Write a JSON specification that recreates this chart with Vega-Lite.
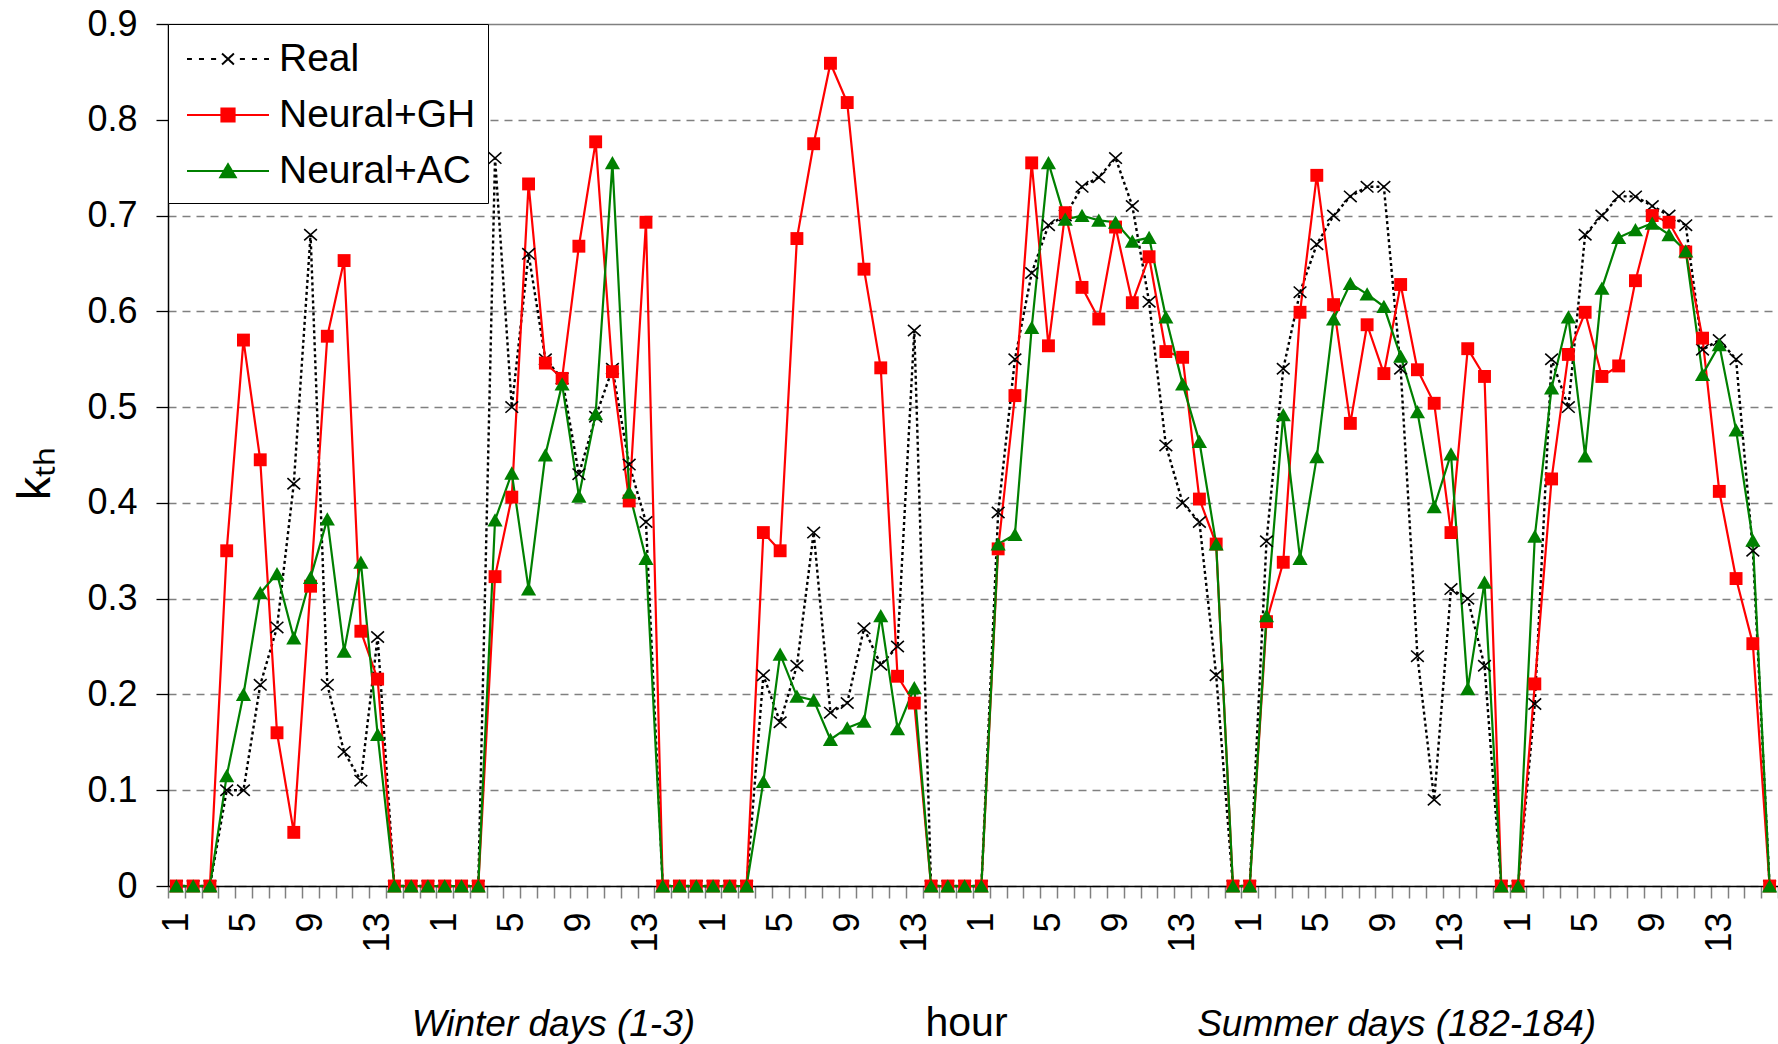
{
  "$schema": "https://vega.github.io/schema/vega-lite/v6.json",
  "width": 1610,
  "height": 862,
  "autosize": {"type": "none"},
  "padding": {"left": 168, "top": 24, "right": 0, "bottom": 158},
  "background": "white",
  "config": {"font": "Liberation Sans", "view": {"stroke": null}},
  "data": {"values": [
    {"t":1,"real":0,"gh":0,"ac":0},{"t":2,"real":0,"gh":0,"ac":0},{"t":3,"real":0,"gh":0,"ac":0},
    {"t":4,"real":0.10,"gh":0.35,"ac":0.115},{"t":5,"real":0.10,"gh":0.57,"ac":0.20},{"t":6,"real":0.21,"gh":0.445,"ac":0.306},
    {"t":7,"real":0.27,"gh":0.16,"ac":0.326},{"t":8,"real":0.42,"gh":0.056,"ac":0.259},{"t":9,"real":0.68,"gh":0.313,"ac":0.322},
    {"t":10,"real":0.21,"gh":0.574,"ac":0.383},{"t":11,"real":0.14,"gh":0.653,"ac":0.245},{"t":12,"real":0.11,"gh":0.266,"ac":0.338},
    {"t":13,"real":0.26,"gh":0.216,"ac":0.158},{"t":14,"real":0,"gh":0,"ac":0},{"t":15,"real":0,"gh":0,"ac":0},{"t":16,"real":0,"gh":0,"ac":0},
    {"t":17,"real":0,"gh":0,"ac":0},{"t":18,"real":0,"gh":0,"ac":0},{"t":19,"real":0,"gh":0,"ac":0},
    {"t":20,"real":0.76,"gh":0.323,"ac":0.382},{"t":21,"real":0.50,"gh":0.406,"ac":0.431},{"t":22,"real":0.66,"gh":0.733,"ac":0.31},
    {"t":23,"real":0.55,"gh":0.546,"ac":0.45},{"t":24,"real":0.53,"gh":0.53,"ac":0.524},{"t":25,"real":0.43,"gh":0.668,"ac":0.407},
    {"t":26,"real":0.49,"gh":0.777,"ac":0.493},{"t":27,"real":0.54,"gh":0.537,"ac":0.755},{"t":28,"real":0.44,"gh":0.402,"ac":0.411},
    {"t":29,"real":0.38,"gh":0.693,"ac":0.342},{"t":30,"real":0,"gh":0,"ac":0},{"t":31,"real":0,"gh":0,"ac":0},{"t":32,"real":0,"gh":0,"ac":0},
    {"t":33,"real":0,"gh":0,"ac":0},{"t":34,"real":0,"gh":0,"ac":0},{"t":35,"real":0,"gh":0,"ac":0},
    {"t":36,"real":0.22,"gh":0.369,"ac":0.109},{"t":37,"real":0.171,"gh":0.35,"ac":0.242},{"t":38,"real":0.23,"gh":0.676,"ac":0.198},
    {"t":39,"real":0.369,"gh":0.775,"ac":0.194},{"t":40,"real":0.181,"gh":0.859,"ac":0.153},{"t":41,"real":0.191,"gh":0.818,"ac":0.165},
    {"t":42,"real":0.269,"gh":0.644,"ac":0.172},{"t":43,"real":0.231,"gh":0.541,"ac":0.282},{"t":44,"real":0.25,"gh":0.219,"ac":0.164},
    {"t":45,"real":0.58,"gh":0.191,"ac":0.207},{"t":46,"real":0,"gh":0,"ac":0},{"t":47,"real":0,"gh":0,"ac":0},{"t":48,"real":0,"gh":0,"ac":0},
    {"t":49,"real":0,"gh":0,"ac":0},
    {"t":50,"real":0.39,"gh":0.352,"ac":0.357},{"t":51,"real":0.55,"gh":0.512,"ac":0.367},{"t":52,"real":0.64,"gh":0.755,"ac":0.583},
    {"t":53,"real":0.69,"gh":0.564,"ac":0.755},{"t":54,"real":0.70,"gh":0.703,"ac":0.696},{"t":55,"real":0.73,"gh":0.625,"ac":0.70},
    {"t":56,"real":0.74,"gh":0.592,"ac":0.695},{"t":57,"real":0.76,"gh":0.688,"ac":0.693},{"t":58,"real":0.71,"gh":0.609,"ac":0.673},
    {"t":59,"real":0.61,"gh":0.657,"ac":0.677},{"t":60,"real":0.46,"gh":0.558,"ac":0.594},{"t":61,"real":0.40,"gh":0.552,"ac":0.524},
    {"t":62,"real":0.38,"gh":0.404,"ac":0.464},{"t":63,"real":0.22,"gh":0.357,"ac":0.357},{"t":64,"real":0,"gh":0,"ac":0},
    {"t":65,"real":0,"gh":0,"ac":0},
    {"t":66,"real":0.36,"gh":0.276,"ac":0.282},{"t":67,"real":0.54,"gh":0.338,"ac":0.492},{"t":68,"real":0.62,"gh":0.599,"ac":0.342},
    {"t":69,"real":0.67,"gh":0.742,"ac":0.448},{"t":70,"real":0.70,"gh":0.607,"ac":0.592},{"t":71,"real":0.72,"gh":0.483,"ac":0.629},
    {"t":72,"real":0.73,"gh":0.586,"ac":0.618},{"t":73,"real":0.73,"gh":0.535,"ac":0.605},{"t":74,"real":0.54,"gh":0.628,"ac":0.553},
    {"t":75,"real":0.24,"gh":0.539,"ac":0.495},{"t":76,"real":0.09,"gh":0.504,"ac":0.396},{"t":77,"real":0.31,"gh":0.369,"ac":0.451},
    {"t":78,"real":0.30,"gh":0.561,"ac":0.206},{"t":79,"real":0.23,"gh":0.532,"ac":0.317},{"t":80,"real":0,"gh":0,"ac":0},
    {"t":81,"real":0,"gh":0,"ac":0},
    {"t":82,"real":0.19,"gh":0.211,"ac":0.365},{"t":83,"real":0.55,"gh":0.425,"ac":0.52},{"t":84,"real":0.50,"gh":0.555,"ac":0.594},
    {"t":85,"real":0.68,"gh":0.599,"ac":0.449},{"t":86,"real":0.70,"gh":0.532,"ac":0.624},{"t":87,"real":0.72,"gh":0.543,"ac":0.677},
    {"t":88,"real":0.72,"gh":0.632,"ac":0.685},{"t":89,"real":0.71,"gh":0.70,"ac":0.692},{"t":90,"real":0.70,"gh":0.693,"ac":0.68},
    {"t":91,"real":0.69,"gh":0.662,"ac":0.663},{"t":92,"real":0.56,"gh":0.572,"ac":0.534},{"t":93,"real":0.57,"gh":0.412,"ac":0.565},
    {"t":94,"real":0.55,"gh":0.321,"ac":0.476},{"t":95,"real":0.35,"gh":0.253,"ac":0.361},{"t":96,"real":0,"gh":0,"ac":0}
  ]},
  "transform": [{"fold": ["real", "gh", "ac"], "as": ["series", "k"]}],
  "resolve": {"axis": {"x": "independent"}},
  "layer": [
    {
      "transform": [{"filter": "datum.series == 'real'"}],
      "mark": {"type": "line", "strokeWidth": 2.4, "strokeDash": [3, 3], "strokeCap": "butt"},
      "encoding": {
        "x": {
          "field": "t", "type": "ordinal", "bandPosition": 0.5,
          "scale": {"type": "band", "paddingInner": 0, "paddingOuter": 0},
          "axis": {
            "orient": "bottom", "tickBand": "extent", "tickSize": 12, "tickColor": "#808080", "tickWidth": 1.5,
            "domainColor": "#000000", "domainWidth": 1.5,
            "labelExpr": "(((datum.value - 1) % 16) % 4 == 0) ? '' + (((datum.value - 1) % 16) + 1) : ''",
            "labelAngle": 270, "labelFontSize": 36, "labelPadding": 14, "labelColor": "#000000", "labelOverlap": false,
            "grid": false,
            "title": "hour", "titleFontSize": 41, "titleFontWeight": "normal", "titleColor": "#000000",
            "titleX": 798, "titleY": 149, "titleBaseline": "alphabetic"
          }
        },
        "y": {
          "field": "k", "type": "quantitative",
          "scale": {"domain": [0, 0.9], "nice": false},
          "axis": {
            "values": [0, 0.1, 0.2, 0.3, 0.4, 0.5, 0.6, 0.7, 0.8, 0.9], "format": ".1~f",
            "tickSize": 12, "tickColor": "#000000", "tickWidth": 1.3,
            "domainColor": "#000000", "domainWidth": 1.5,
            "labelFontSize": 36, "labelPadding": 19, "labelColor": "#000000",
            "grid": true, "gridColor": "#808080", "gridWidth": 1.3,
            "gridDash": {"condition": {"test": "datum.value == 0.9", "value": []}, "value": [8, 6]},
            "title": "kₜₕ", "titleFontSize": 47, "titleFontWeight": "normal", "titleColor": "#000000",
            "titleAngle": 270, "titleAlign": "center", "titleBaseline": "alphabetic", "titleX": -119, "titleY": 449
          }
        },
        "stroke": {
          "field": "series", "type": "nominal",
          "scale": {"domain": ["real", "gh", "ac"], "range": ["#000000", "#FF0000", "#008000"]},
          "legend": {
            "title": null, "orient": "top-left", "offset": 0, "padding": 12,
            "strokeColor": "#000000", "fillColor": "white",
            "labelFontSize": 39, "labelFont": "Liberation Sans", "labelColor": "#000000", "labelLimit": 0,
            "symbolSize": 1936, "symbolStrokeWidth": 2, "symbolOffset": 25, "labelOffset": 28, "rowPadding": 13,
            "labelExpr": "datum.label == 'real' ? 'Real' : datum.label == 'gh' ? 'Neural+GH' : 'Neural+AC'",
            "encode": {
              "symbols": {"update": {
                "shape": {"signal": "datum.value == 'real' ? 'M-1.864,0H-1.64M-1.32,0H-1.09M-0.77,0H-0.54M0.54,0H0.77M1.09,0H1.32M1.64,0H1.864M-0.27,-0.25L0.27,0.25M-0.27,0.25L0.27,-0.25' : datum.value == 'gh' ? 'M-1.864,0H1.864M-0.3,-0.3H0.3V0.3H-0.3Z' : 'M-1.864,0H1.864M0,-0.31L0.35,0.28H-0.35Z'"},
                "fill": {"signal": "datum.value == 'real' ? 'transparent' : datum.value == 'gh' ? '#FF0000' : '#008000'"},
                "stroke": {"signal": "datum.value == 'real' ? '#000000' : datum.value == 'gh' ? '#FF0000' : '#008000'"},
                "strokeDash": {"value": [1, 0]},
                "strokeWidth": {"value": 2},
                "opacity": {"value": 1}
              }}
            }
          }
        }
      }
    },
    {
      "transform": [{"filter": "datum.series != 'real'"}],
      "mark": {"type": "line", "strokeWidth": 2.2, "strokeCap": "butt"},
      "encoding": {
        "x": {"field": "t", "type": "ordinal", "bandPosition": 0.5, "axis": null},
        "y": {"field": "k", "type": "quantitative"},
        "stroke": {"field": "series", "type": "nominal"}
      }
    },
    {
      "transform": [{"filter": "datum.series == 'real'"}],
      "mark": {"type": "point", "shape": "M-0.9,-0.8L0.9,0.8M-0.9,0.8L0.9,-0.8", "size": 200, "filled": false, "stroke": "#000000", "strokeWidth": 1.6, "opacity": 1},
      "encoding": {
        "x": {
          "field": "t", "type": "ordinal", "bandPosition": 0.5,
          "axis": {
            "orient": "bottom", "values": [23, 74],
            "labelExpr": "datum.value == 23 ? 'Winter days (1-3)' : 'Summer days (182-184)'",
            "ticks": false, "tickSize": 0, "domain": false, "grid": false,
            "labelAngle": 0, "labelAlign": "center", "labelBaseline": "alphabetic", "labelLimit": 0,
            "labelFontSize": 37, "labelFontStyle": "italic", "labelColor": "#000000", "labelPadding": 149,
            "labelOffset": {"condition": {"test": "datum.value == 23", "value": 8}, "value": -4},
            "labelOverlap": false, "title": null
          }
        },
        "y": {"field": "k", "type": "quantitative"}
      }
    },
    {
      "transform": [{"filter": "datum.series == 'gh'"}],
      "mark": {"type": "point", "shape": "M-0.85,-0.85H0.85V0.85H-0.85Z", "size": 230, "filled": true, "color": "#FF0000", "opacity": 1},
      "encoding": {
        "x": {"field": "t", "type": "ordinal", "bandPosition": 0.5, "axis": null},
        "y": {"field": "k", "type": "quantitative"}
      }
    },
    {
      "transform": [{"filter": "datum.series == 'ac'"}],
      "mark": {"type": "point", "shape": "M0,-0.9L1.0,0.85H-1.0Z", "size": 230, "filled": true, "color": "#008000", "opacity": 1},
      "encoding": {
        "x": {"field": "t", "type": "ordinal", "bandPosition": 0.5, "axis": null},
        "y": {"field": "k", "type": "quantitative"}
      }
    }
  ]
}
